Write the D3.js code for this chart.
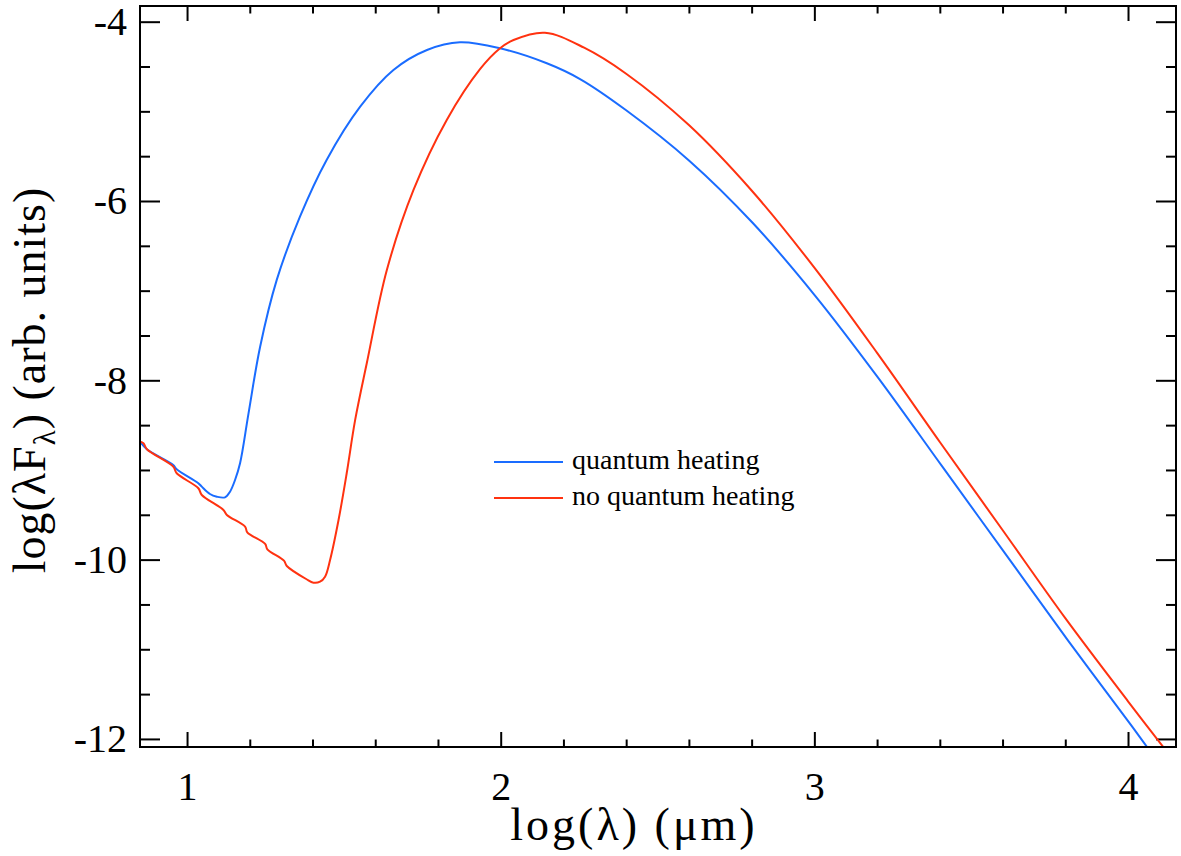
<!DOCTYPE html>
<meta charset="utf-8">
<html>
<head>
<style>
    body { margin: 0; background: #fff; }
    text { font-family: "Liberation Serif", "Times New Roman", serif; fill: #000; }
</style>
</head>
<body>
<svg width="1181" height="856" id="chart"></svg>
<script src="https://d3js.org/d3.v7.min.js"></script>
<script>
    // log(lambda) / log(lambda F_lambda)
    var blueX = [0.85, 0.872, 0.956, 0.967, 1.036, 1.047, 1.073, 1.095, 1.121, 1.137, 1.153, 1.169, 1.196, 1.233,
        1.286, 1.36, 1.445, 1.552, 1.658, 1.765, 1.870, 1.998, 2.147, 2.253, 2.400, 2.602, 2.803, 3.004, 3.206,
        3.407, 3.608, 3.809, 4.011, 4.075];
    var blueY = [-8.684, -8.769, -8.944, -8.992, -9.148, -9.186, -9.268, -9.298, -9.305, -9.242, -9.112, -8.925, -8.368, -7.625,
        -6.88, -6.175, -5.542, -4.948, -4.539, -4.316, -4.230, -4.297, -4.464, -4.640, -4.988, -5.553, -6.243, -7.063, -7.984,
        -8.958, -9.930, -10.903, -11.851, -12.16];

    var redX = [0.85, 0.861, 0.872, 0.956, 0.967, 1.036, 1.047, 1.116, 1.127, 1.185, 1.192, 1.249, 1.256, 1.309, 1.318,
        1.381, 1.403, 1.424, 1.440, 1.456, 1.483, 1.509, 1.536, 1.573, 1.637, 1.722, 1.828, 1.934, 1.998, 2.041,
        2.141, 2.266, 2.400, 2.600, 2.800, 3.000, 3.200, 3.400, 3.600, 3.800, 4.000, 4.130];
    var redY = [-8.684, -8.702, -8.769, -8.963, -9.037, -9.204, -9.279, -9.446, -9.502, -9.632, -9.695, -9.825, -9.885, -10.012, -10.071,
        -10.219, -10.257, -10.246, -10.190, -10.004, -9.558, -9.037, -8.442, -7.810, -6.770, -5.877, -5.096, -4.530, -4.297, -4.204,
        -4.123, -4.290, -4.580, -5.153, -5.883, -6.743, -7.694, -8.688, -9.670, -10.653, -11.580, -12.17];

    var xMajor = [1, 2, 3, 4];
    var xMinor = [1.2, 1.4, 1.6, 1.8, 2.2, 2.4, 2.6, 2.8, 3.2, 3.4, 3.6, 3.8];
    var yMajor = [-12, -10, -8, -6, -4];
    var yMinor = [-11.5, -11, -10.5, -9.5, -9, -8.5, -7.5, -7, -6.5, -5.5, -5, -4.5];

    var seriesNames = ["quantum heating", "no quantum heating"];
    var seriesColors = ["#1a6cff", "#ff3210"];

    var svg = d3.select("#chart"),
        margin = { top: 6, right: 5, bottom: 109, left: 140 },
        width = +svg.attr("width") - margin.left - margin.right,
        height = +svg.attr("height") - margin.top - margin.bottom;

    var x = d3.scaleLinear().domain([0.85, 4.153]).range([0, width]),
        y = d3.scaleLinear().domain([-12.09, -3.825]).range([height, 0]);

    var g = svg.append("g")
        .attr("transform", "translate(" + margin.left + "," + margin.top + ")");

    g.append("clipPath").attr("id", "clip")
        .append("rect").attr("width", width).attr("height", height);

    /* ticks, all pointing inwards */
    function styleAxis(sel) {
        sel.select(".domain").remove();
        sel.selectAll("line").attr("stroke", "#000").attr("stroke-width", 2);
    }
    var fmt = function (d) { return String(d); };

    g.append("g").attr("transform", "translate(0," + height + ")")
        .call(d3.axisBottom(x).tickValues(xMajor).tickSize(-15).tickPadding(25).tickFormat(fmt))
        .call(styleAxis);
    g.append("g").attr("transform", "translate(0," + height + ")")
        .call(d3.axisBottom(x).tickValues(xMinor).tickSize(-7.5).tickFormat(""))
        .call(styleAxis);
    g.append("g")
        .call(d3.axisTop(x).tickValues(xMajor).tickSize(-15).tickFormat(""))
        .call(styleAxis);
    g.append("g")
        .call(d3.axisTop(x).tickValues(xMinor).tickSize(-7.5).tickFormat(""))
        .call(styleAxis);

    g.append("g")
        .call(d3.axisLeft(y).tickValues(yMajor).tickSize(-20).tickPadding(13).tickFormat(fmt))
        .call(styleAxis);
    g.append("g")
        .call(d3.axisLeft(y).tickValues(yMinor).tickSize(-10).tickFormat(""))
        .call(styleAxis);
    g.append("g").attr("transform", "translate(" + width + ",0)")
        .call(d3.axisRight(y).tickValues(yMajor).tickSize(-20).tickFormat(""))
        .call(styleAxis);
    g.append("g").attr("transform", "translate(" + width + ",0)")
        .call(d3.axisRight(y).tickValues(yMinor).tickSize(-10).tickFormat(""))
        .call(styleAxis);

    g.selectAll(".tick text")
        .attr("font-family", "Liberation Serif")
        .attr("font-size", 40)
        .attr("fill", "#000");

    /* the two spectra */
    var line = d3.line()
        .x(function (d) { return x(d[0]); })
        .y(function (d) { return y(d[1]); })
        .curve(d3.curveCatmullRom.alpha(0.5));

    var series = [d3.zip(blueX, blueY), d3.zip(redX, redY)];

    g.append("g").attr("clip-path", "url(#clip)")
        .selectAll("path")
        .data(series)
        .enter().append("path")
        .attr("fill", "none")
        .attr("stroke", function (d, i) { return seriesColors[i]; })
        .attr("stroke-width", 2)
        .attr("stroke-linejoin", "round")
        .attr("d", line);

    /* frame */
    g.append("rect")
        .attr("width", width).attr("height", height)
        .attr("fill", "none").attr("stroke", "#000").attr("stroke-width", 2);

    /* legend */
    var legend = g.append("g").attr("transform", "translate(354,456)");
    seriesNames.forEach(function (name, i) {
        legend.append("line")
            .attr("x1", 0).attr("x2", 69)
            .attr("y1", i * 36).attr("y2", i * 36)
            .attr("stroke", seriesColors[i]).attr("stroke-width", 2);
        legend.append("text")
            .attr("x", 78).attr("y", i * 36 + 7)
            .attr("font-size", 28)
            .text(name);
    });

    /* axis titles */
    svg.append("text")
        .attr("x", 634).attr("y", 840)
        .attr("text-anchor", "middle")
        .attr("font-size", 46)
        .attr("letter-spacing", 3)
        .text("log(\u03bb) (\u03bcm)");

    var yt = svg.append("text")
        .attr("transform", "translate(45,380) rotate(-90)")
        .attr("text-anchor", "middle")
        .attr("font-size", 46)
        .attr("letter-spacing", 1);
    yt.append("tspan").text("log(\u03bbF");
    yt.append("tspan").attr("font-size", 31).attr("dy", 10).text("\u03bb");
    yt.append("tspan").attr("dy", -10).text(") (arb. units)");
</script>
</body>
</html>
